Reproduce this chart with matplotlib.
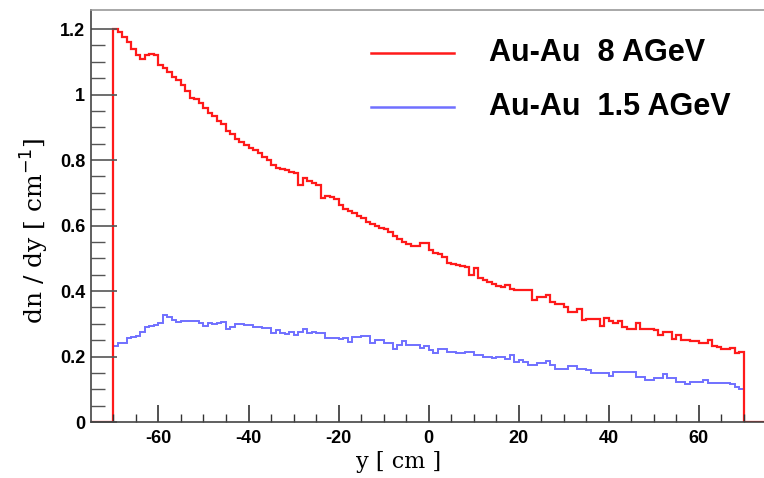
import numpy as np
from matplotlib import pyplot as plt

plt.rcParams['axes.unicode_minus'] = False

# bin edges: 1 cm bins from -70 to 70
edges = np.arange(-70, 71, 1)

# Au-Au 8 AGeV (red), one value per bin
red_vals = [
    1.200, 1.190, 1.175, 1.160, 1.140, 1.120, 1.110, 1.120, 1.125, 1.120,
    1.090, 1.080, 1.070, 1.055, 1.045, 1.030, 1.010, 0.990, 0.985, 0.975,
    0.960, 0.945, 0.935, 0.920, 0.910, 0.890, 0.880, 0.865, 0.855, 0.845,
    0.836, 0.830, 0.820, 0.810, 0.800, 0.785, 0.775, 0.772, 0.770, 0.765,
    0.760, 0.724, 0.745, 0.735, 0.730, 0.724, 0.683, 0.690, 0.688, 0.680,
    0.663, 0.650, 0.645, 0.637, 0.630, 0.622, 0.612, 0.605, 0.600, 0.593,
    0.588, 0.580, 0.568, 0.560, 0.550, 0.545, 0.538, 0.537, 0.546, 0.548,
    0.525, 0.515, 0.513, 0.505, 0.486, 0.482, 0.480, 0.476, 0.474, 0.449,
    0.470, 0.440, 0.434, 0.428, 0.423, 0.415, 0.411, 0.418, 0.405, 0.403,
    0.403, 0.402, 0.403, 0.372, 0.382, 0.383, 0.388, 0.366, 0.362, 0.362,
    0.352, 0.337, 0.337, 0.344, 0.311, 0.316, 0.316, 0.315, 0.293, 0.318,
    0.310, 0.303, 0.308, 0.290, 0.283, 0.285, 0.303, 0.284, 0.284, 0.283,
    0.282, 0.266, 0.276, 0.275, 0.255, 0.266, 0.252, 0.250, 0.248, 0.247,
    0.242, 0.242, 0.250, 0.232, 0.230, 0.222, 0.222, 0.225, 0.212, 0.215,
]

# Au-Au 1.5 AGeV (blue)
blue_vals = [
    0.232, 0.240, 0.242, 0.256, 0.260, 0.262, 0.275, 0.290, 0.293, 0.295,
    0.304, 0.327, 0.322, 0.313, 0.306, 0.309, 0.309, 0.308, 0.309, 0.303,
    0.293, 0.301, 0.300, 0.301, 0.306, 0.283, 0.291, 0.298, 0.298, 0.297,
    0.296, 0.291, 0.290, 0.287, 0.286, 0.271, 0.281, 0.271, 0.270, 0.276,
    0.266, 0.276, 0.283, 0.273, 0.276, 0.271, 0.271, 0.256, 0.256, 0.256,
    0.255, 0.256, 0.246, 0.261, 0.261, 0.262, 0.262, 0.240, 0.250, 0.250,
    0.240, 0.240, 0.222, 0.235, 0.248, 0.235, 0.235, 0.234, 0.225, 0.232,
    0.220, 0.212, 0.222, 0.222, 0.215, 0.215, 0.210, 0.210, 0.215, 0.214,
    0.205, 0.205, 0.198, 0.198, 0.195, 0.200, 0.200, 0.192, 0.205, 0.184,
    0.189, 0.184, 0.174, 0.174, 0.181, 0.179, 0.187, 0.174, 0.161, 0.162,
    0.161, 0.171, 0.170, 0.161, 0.161, 0.160, 0.151, 0.151, 0.150, 0.151,
    0.141, 0.154, 0.154, 0.153, 0.154, 0.153, 0.138, 0.138, 0.128, 0.129,
    0.136, 0.136, 0.148, 0.136, 0.136, 0.123, 0.123, 0.116, 0.123, 0.123,
    0.123, 0.128, 0.120, 0.120, 0.120, 0.120, 0.120, 0.116, 0.108, 0.100,
]

labels = ['Au-Au  8 AGeV', 'Au-Au  1.5 AGeV']
x_range = (-75, 75)

fig = plt.figure(figsize=(7.64, 4.78), dpi=100)
ax = fig.add_axes([0.119, 0.117, 0.884, 0.862])

# blue histogram drawn first, red on top (with empty bins outside -70..70)
ax.stairs(blue_vals, edges, color='#7070ff', linewidth=1.4, baseline=None)
red_edges = np.concatenate([[x_range[0]], edges, [x_range[1]]])
red_full = np.concatenate([[0.0], red_vals, [0.0]])
ax.stairs(red_full, red_edges, color='#ff1a1a', linewidth=1.6, baseline=None)

ax.set_xlim(*x_range)
ax.set_ylim(0, 1.258)

ax.set_xticks([-60, -40, -20, 0, 20, 40, 60])
ax.set_xticks(np.arange(-70, 75, 5), minor=True)
ax.set_yticks([0, 0.2, 0.4, 0.6, 0.8, 1.0, 1.2])
ax.set_yticklabels(['0', '0.2', '0.4', '0.6', '0.8', '1', '1.2'])
ax.set_yticks(np.arange(0, 1.25, 0.05), minor=True)

ax.tick_params(axis='x', which='major', direction='in', length=12, width=1.2,
               color='#333333', pad=6)
ax.tick_params(axis='x', which='minor', direction='in', length=6, width=1,
               color='#333333')
ax.tick_params(axis='y', which='major', direction='in', length=19, width=1.2,
               color='#555555', pad=4)
ax.tick_params(axis='y', which='minor', direction='in', length=10, width=1,
               color='#555555')
for lab in ax.get_xticklabels() + ax.get_yticklabels():
    lab.set_fontweight('bold')
    lab.set_fontsize(13)
    lab.set_family('Liberation Sans')

for side in ['left', 'bottom', 'top']:
    ax.spines[side].set_color('#444444')
    ax.spines[side].set_linewidth(1.2)
ax.spines['top'].set_color('#999999')
ax.spines['right'].set_visible(False)

ax.set_xlabel('y [ cm ]', fontsize=16, family='DejaVu Serif')
ax.xaxis.set_label_coords(0.455, -0.07)
fig.text(0.046, 0.517, r'dn / dy [ cm$^{-1}$]', fontsize=18,
         family='DejaVu Serif', rotation=90, ha='center', va='center')

# legend, drawn by hand as in the ROOT canvas
leg_y = [0.895, 0.765]
leg_colors = ['#ff1a1a', '#7070ff']
for yy, lab, col in zip(leg_y, labels, leg_colors):
    ax.plot([0.415, 0.538], [yy, yy], transform=ax.transAxes, color=col,
            linewidth=1.8)
    ax.text(0.59, yy, lab, transform=ax.transAxes, fontsize=22,
            fontweight='bold', family='Liberation Sans', va='center')

fig.savefig('out.png', dpi=100)
